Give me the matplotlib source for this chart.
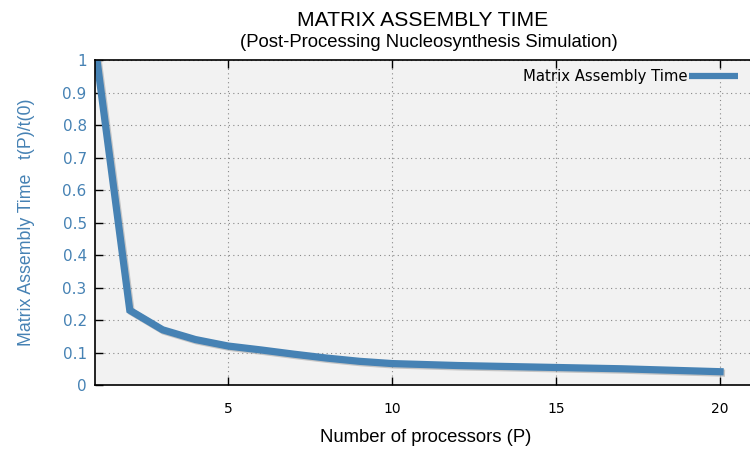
import numpy as np
import matplotlib
matplotlib.use('Agg')
import matplotlib.pyplot as plt
import matplotlib.patheffects as pe

# normalised assembly time versus processor count
processors = [1, 2, 3, 4, 5, 6, 7, 8, 9, 10, 11, 12, 13, 14, 15, 16, 17, 18, 19, 20]
rel_time = [1.0, 0.23, 0.17, 0.14, 0.12, 0.108, 0.095, 0.083, 0.073, 0.066,
            0.063, 0.060, 0.058, 0.056, 0.054, 0.052, 0.050, 0.047, 0.044, 0.041]
x_ticks = [5, 10, 15, 20]
y_ticks = [0, 0.1, 0.2, 0.3, 0.4, 0.5, 0.6, 0.7, 0.8, 0.9, 1]
y_labels = ['0', '0.1', '0.2', '0.3', '0.4', '0.5', '0.6', '0.7', '0.8', '0.9', '1']

blue = '#4682b4'
plt.rcParams['font.family'] = ['DejaVu Sans']
sans = 'Liberation Sans'

fig = plt.figure(figsize=(7.5, 4.49), dpi=100)
# plot box runs off the right edge of the image
ax = fig.add_axes([0.1267, 0.1425, 0.8867, 0.7235])
ax.set_facecolor('#f2f2f2')

ax.plot(processors, rel_time, color=blue, lw=5.2, solid_joinstyle='miter',
        label='Matrix Assembly Time',
        path_effects=[pe.SimpleLineShadow(offset=(1, -1), shadow_color='#999999', alpha=0.5),
                      pe.Normal()])

ax.set_xlim(0.94, 21.22)
ax.set_ylim(0, 1)
ax.set_xticks(x_ticks)
ax.set_yticks(y_ticks)
ax.set_yticklabels(y_labels)
ax.tick_params(direction='in', top=True, right=False, length=6, width=1)
ax.tick_params(axis='x', labelsize=10, colors='black', pad=12)
ax.tick_params(axis='y', labelsize=11, labelcolor=blue, pad=6)
ax.grid(True, linestyle=(0, (1, 3)), color='#888888', lw=0.8)
ax.spines['right'].set_visible(False)
for s in ax.spines.values():
    s.set_linewidth(1.2)

ax.set_ylabel('Matrix Assembly Time   t(P)/t(0)', fontsize=12.8, family=sans,
              color=blue, labelpad=20)

fig.text(426 / 750, 1 - 437 / 449, 'Number of processors (P)', ha='center', va='center',
         fontsize=13.3, family=sans)
fig.text(0.563, 0.955, 'MATRIX ASSEMBLY TIME', ha='center', va='center',
         fontsize=15.2, family=sans)
fig.text(0.572, 0.905, '(Post-Processing Nucleosynthesis Simulation)', ha='center',
         va='center', fontsize=13.3, family=sans)

leg = ax.legend(loc='upper right', bbox_to_anchor=((747 - 95) / 665, 1.0), frameon=False,
                markerfirst=False, fontsize=10.7, handlelength=3.3, handletextpad=0.1,
                borderaxespad=0.2)
for h in leg.get_lines():
    h.set_linewidth(4.5)
    h.set_solid_capstyle('butt')
    h.set_path_effects([])

fig.savefig('out.png', dpi=100)
